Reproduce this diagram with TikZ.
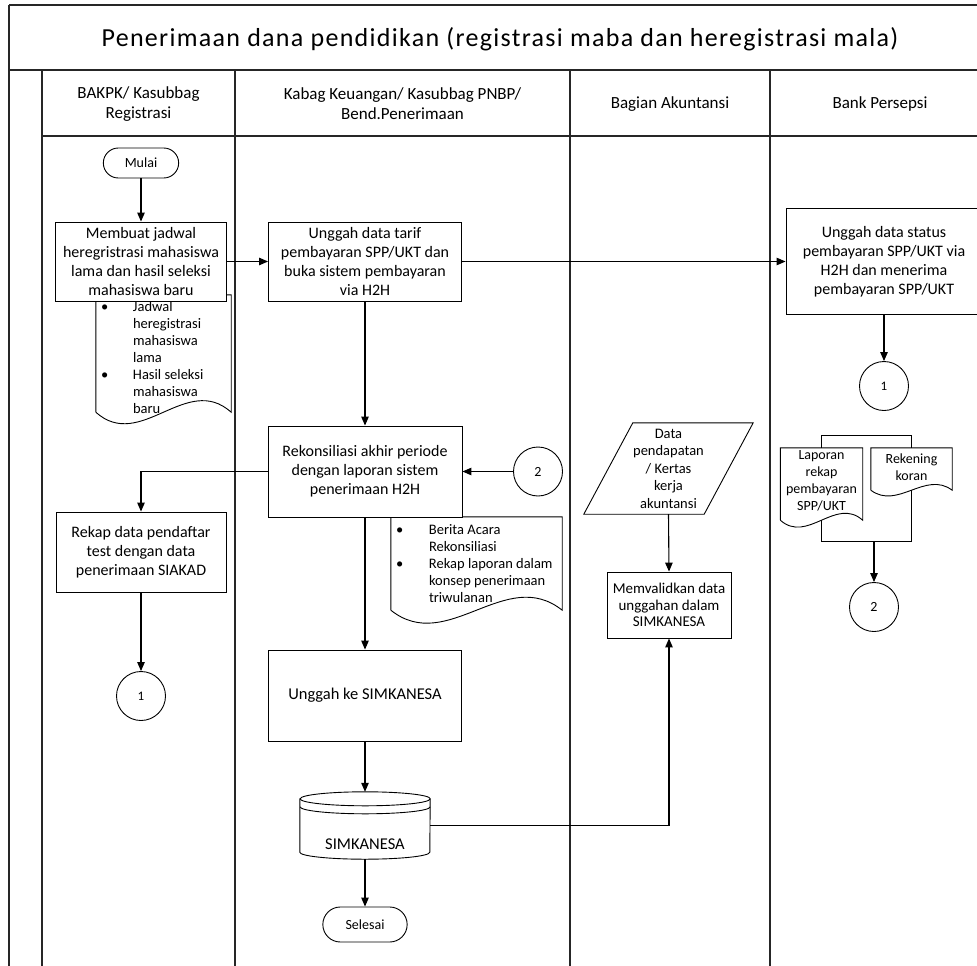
\documentclass[tikz,border=0pt]{standalone}
\usepackage{fontspec}
\setmainfont{Carlito}
\newfontfamily\titlefont[LetterSpace=5.0]{Carlito}
\usetikzlibrary{positioning,arrows.meta,shapes.misc,calc}

\begin{document}
\begin{tikzpicture}[x=1pt, y=-1pt,
  block/.style={draw, fill=white, line width=0.9pt, align=center, inner sep=2pt, font=\fontsize{16}{19}\selectfont},
  term/.style={draw, fill=white, line width=0.9pt, rounded rectangle, font=\fontsize{14}{17}\selectfont},
  conn/.style={draw, fill=white, line width=0.9pt, circle, minimum size=49pt, inner sep=0pt, font=\fontsize{13}{16}\selectfont},
  docbox/.style={inner sep=0pt, align=center, font=\fontsize{14}{17}\selectfont},
  listtext/.style={inner sep=0pt, anchor=west, font=\fontsize{14.5}{17}\selectfont},
  small/.style={align=center, font=\fontsize{14}{17}\selectfont},
  lanehead/.style={align=center, font=\fontsize{17}{20}\selectfont},
  pool/.style={line width=1.3pt, color=black!85},
  flow/.style={-{Triangle[length=9pt, width=7.5pt]}, line width=1.1pt}]

  \useasboundingbox (0,0) rectangle (977,966);

  % Pool and lanes
  \draw[pool] (9,5) -- (995,5);
  \draw[pool] (9,5) -- (9,975);
  \draw[pool] (9,70) -- (995,70);
  \draw[pool] (42,136) -- (995,136);
  \foreach \x in {42,235,570,770}
    \draw[pool] (\x,70) -- (\x,975);

  % Title and lane labels
  \node[font=\titlefont\fontsize{26}{30}\selectfont] (title) at (500,39) {Penerimaan dana pendidikan (registrasi maba dan heregistrasi mala)};
  \node[lanehead] (H1) at (138.5,104) {BAKPK/ Kasubbag\\Registrasi};
  \node[lanehead] (H2) at (402.5,104) {Kabag Keuangan/ Kasubbag PNBP/\\Bend.Penerimaan};
  \node[lanehead] (H3) at (670,104) {Bagian Akuntansi};
  \node[lanehead] (H4) at (880,104) {Bank Persepsi};

  % Documents
  \node[docbox, minimum width=135pt, minimum height=117pt] (jadwal) at (163.5,353.5) {};
  \node[docbox, minimum width=171pt, minimum height=93pt] (berita) at (476.5,563.5) {};
  \node[docbox, minimum width=82pt, minimum height=72pt] (laporan) at (821.5,484) {};
  \node[docbox, minimum width=81pt, minimum height=42pt] (rekening) at (911.5,469) {};
  \foreach \d/\a in {jadwal/40, berita/45, laporan/24, rekening/20}
    \draw[fill=white, line width=0.9pt] (\d.south west) -- (\d.north west) -- (\d.north east) -- (\d.south east)
      .. controls ($(\d.south west)!0.67!(\d.south east)+(0,-\a)$) and ($(\d.south west)!0.33!(\d.south east)+(0,\a)$) .. (\d.south west);

  \node[listtext] (jadwaltxt) at ([xshift=5pt,yshift=-6pt]jadwal.west) {%
    \begin{tabular}{@{}p{32pt}@{}l@{}}
      \textbullet & Jadwal\\ & heregistrasi\\ & mahasiswa\\ & lama\\
      \textbullet & Hasil seleksi\\ & mahasiswa\\ & baru
    \end{tabular}};
  \node[listtext] (beritatxt) at ([xshift=5pt,yshift=-1.5pt]berita.west) {%
    \begin{tabular}{@{}p{33pt}@{}l@{}}
      \textbullet & Berita Acara\\ & Rekonsiliasi\\
      \textbullet & Rekap laporan dalam\\ & konsep penerimaan\\ & triwulanan
    \end{tabular}};
  \node[small] (laporantxt) at ([yshift=3pt]laporan.center) {Laporan\\rekap\\pembayaran\\SPP/UKT};
  \node[small] (rekeningtxt) at ([yshift=1.5pt]rekening.center) {Rekening\\koran};

  % First lane
  \node[term, minimum width=82pt, minimum height=30pt] (mulai) at (141,163) {Mulai};
  \node[block, minimum width=171pt, minimum height=79pt] (buat) at (141,261.5) {Membuat jadwal\\heregristrasi mahasiswa\\lama dan hasil seleksi\\mahasiswa baru};
  \node[block, minimum width=170pt, minimum height=80pt] (rekap) at (141,552) {Rekap data pendaftar\\test dengan data\\penerimaan SIAKAD};
  \node[conn] (L1) at (141,696) {1};

  % Second lane
  \node[block, minimum width=193pt, minimum height=79pt] (tarif) at (365,261.5) {Unggah data tarif\\pembayaran SPP/UKT dan\\buka sistem pembayaran\\via H2H};
  \node[block, minimum width=194pt, minimum height=91pt] (rekon) at (365,471.5) {Rekonsiliasi akhir periode\\dengan laporan sistem\\penerimaan H2H};
  \node[conn, font=\fontsize{14}{16}\selectfont] (M2) at (538,471.5) {2};
  \node[block, minimum width=193pt, minimum height=91pt, font=\fontsize{16.5}{19}\selectfont] (upload) at (365,695.5) {Unggah ke SIMKANESA};
  \node[minimum width=130pt, minimum height=67pt, inner sep=0pt] (simk) at (365,825.5) {};
  \draw[fill=white, line width=0.9pt] ([yshift=-7pt]simk.north west) -- ([yshift=7pt]simk.south west)
    arc[start angle=180, end angle=360, x radius=65pt, y radius=7pt] -- ([yshift=-7pt]simk.north east)
    arc[start angle=0, end angle=180, x radius=65pt, y radius=7pt] -- cycle;
  \draw[line width=0.9pt] ([yshift=-7pt]simk.north east) arc[start angle=0, end angle=-180, x radius=65pt, y radius=7pt];
  \draw[line width=0.9pt] ([yshift=-15pt]simk.north east) arc[start angle=0, end angle=-180, x radius=65pt, y radius=7pt];
  \node[font=\fontsize{16.5}{19}\selectfont] (simktxt) at ([yshift=-18.5pt]simk.center) {SIMKANESA};
  \node[term, minimum width=91pt, minimum height=35pt] (selesai) at (365,924.5) {Selesai};

  % Third lane
  \node[minimum width=169pt, minimum height=91pt, inner sep=0pt, align=center, font=\fontsize{14.5}{17.5}\selectfont] (datap) at (668.5,468.5) {Data\\pendapatan\\/ Kertas\\kerja\\akuntansi};
  \draw[line width=0.9pt] (datap.south west) -- ([xshift=49pt]datap.north west) -- (datap.north east) -- ([xshift=-49pt]datap.south east) -- cycle;
  \node[block, minimum width=124pt, minimum height=66pt, font=\fontsize{15}{16.5}\selectfont] (valid) at (669,605) {Memvalidkan data\\unggahan dalam\\SIMKANESA};

  % Fourth lane
  \node[block, minimum width=196pt, minimum height=106pt] (bank) at (884,261.5) {Unggah data status\\pembayaran SPP/UKT via\\H2H dan menerima\\pembayaran SPP/UKT};
  \node[conn] (R1) at (884,386) {1};
  \node[conn, font=\fontsize{14}{16}\selectfont] (R2) at (874,607) {2};
  \coordinate (brk) at (874,541.5);

  % Arrows
  \draw[flow] (mulai.south) -- (buat.north);
  \draw[flow] (buat.east) -- (tarif.west);
  \draw[flow] (tarif.east) -- (bank.west);
  \draw[flow] (bank.south) -- (R1.north);
  \draw[flow] (tarif.south) -- (rekon.north);
  \draw[flow] (M2.west) -- (rekon.east);
  \draw[flow] (rekon.west) -| (rekap.north);
  \draw[flow] (rekap.south) -- (L1.north);
  \draw[flow] (rekon.south) -- (upload.north);
  \draw[flow] (upload.south) -- (simk.north);
  \draw[flow] (simk.south) -- (selesai.north);
  \draw[flow] (simk.east) -| (valid.south);
  \draw[flow] (datap.south) -- (valid.north);

  % Bracket round the two reports
  \draw[line width=0.9pt] (laporan.north) |- ($(rekening.north)+(0,-12)$) -- (rekening.north);
  \draw[line width=0.9pt] (laporan.south) |- (brk) -| (rekening.south);
  \draw[flow] (brk) -- (R2.north);

\end{tikzpicture}
\end{document}
